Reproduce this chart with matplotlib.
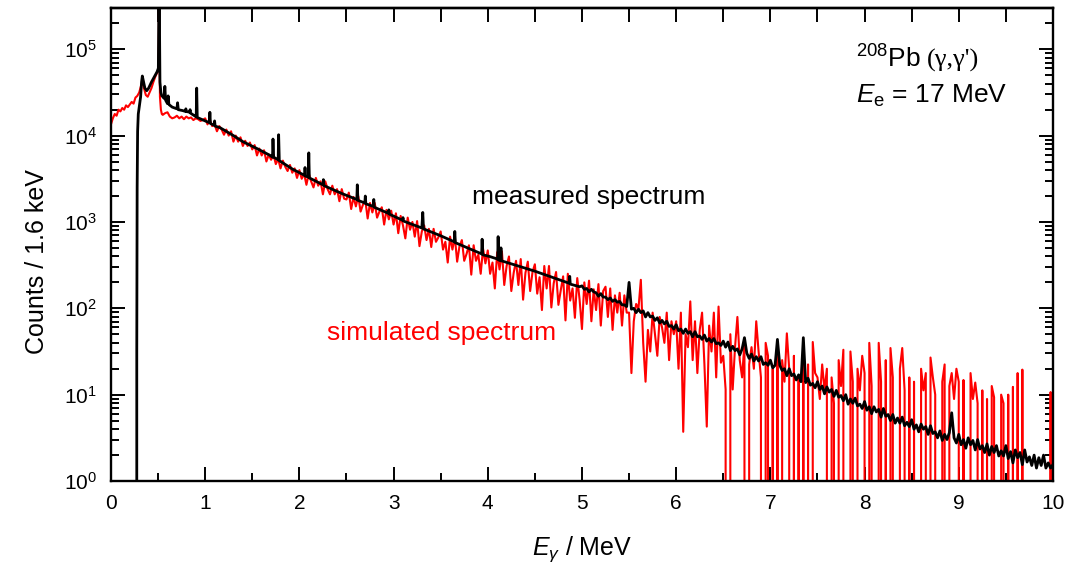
import numpy as np
import matplotlib
matplotlib.use("Agg")
import matplotlib.pyplot as plt
from matplotlib.ticker import MultipleLocator, LogLocator

plt.rcParams['font.family'] = 'Liberation Sans'
plt.rcParams['mathtext.fontset'] = 'custom'
plt.rcParams['mathtext.rm'] = 'Liberation Sans'
plt.rcParams['mathtext.it'] = 'Liberation Sans:italic'
plt.rcParams['mathtext.bf'] = 'Liberation Sans:bold'

# values are log10(counts); None = empty channel (0 counts)

# low-energy part, below 0.55 MeV
meas_e_low = [0.0, 0.268, 0.274, 0.278, 0.283, 0.29, 0.30, 0.315, 0.325, 0.333, 0.345, 0.36,
              0.38, 0.40, 0.43, 0.46, 0.49, 0.503, 0.507, 0.511, 0.515, 0.52, 0.53, 0.54]
meas_low = [None, None, 1.5, 3.4, 4.05, 4.25, 4.33, 4.45, 4.62, 4.69, 4.63, 4.55,
            4.52, 4.55, 4.62, 4.68, 4.74, 4.78, 5.3, 5.9, 5.3, 4.62, 4.50, 4.46]

sim_e_low = [0.0, 0.02, 0.04, 0.06, 0.08, 0.10, 0.12, 0.14, 0.16, 0.18, 0.20, 0.22, 0.24, 0.26,
             0.28, 0.30, 0.32, 0.335, 0.35, 0.37, 0.39, 0.41, 0.43, 0.45, 0.47, 0.49, 0.503,
             0.508, 0.511, 0.514, 0.52, 0.53, 0.54]
sim_low = [4.13, 4.20, 4.25, 4.23, 4.30, 4.28, 4.32, 4.30, 4.35, 4.33, 4.36, 4.39, 4.37, 4.44,
           4.46, 4.50, 4.58, 4.63, 4.55, 4.47, 4.45, 4.50, 4.55, 4.62, 4.68, 4.73, 4.76,
           5.2, 5.6, 5.2, 4.45, 4.30, 4.25]

# measured, 0.55 - 5 MeV: continuum points and the narrow lines
meas_e_mid = [0.55, 0.565, 0.572, 0.58, 0.60, 0.607, 0.615, 0.65, 0.70, 0.707,
              0.715, 0.76, 0.79, 0.795, 0.80, 0.835, 0.84, 0.845, 0.90, 0.905,
              0.91, 0.916, 1.00, 1.045, 1.05, 1.056, 1.095, 1.10, 1.106, 1.16,
              1.30, 1.40, 1.55, 1.69, 1.715, 1.72, 1.727, 1.775, 1.78, 1.787,
              1.93, 2.055, 2.06, 2.066, 2.095, 2.10, 2.106, 2.25, 2.255, 2.262,
              2.45, 2.61, 2.615, 2.622, 2.695, 2.70, 2.706, 2.785, 2.79, 2.796,
              2.945, 2.95, 2.956, 3.095, 3.10, 3.106, 3.30, 3.31, 3.318, 3.50,
              3.645, 3.65, 3.656, 3.935, 3.94, 3.946, 4.02, 4.105, 4.11, 4.116,
              4.135, 4.14, 4.146, 4.50, 4.63, 4.865, 4.87, 4.876, 4.975]
meas_mid = [4.45, 4.43, 4.57, 4.41, 4.37, 4.46, 4.36, 4.33, 4.31, 4.38,
            4.30, 4.29, 4.28, 4.31, 4.28, 4.27, 4.30, 4.26, 4.22, 4.22,
            4.55, 4.21, 4.17, 4.15, 4.27, 4.14, 4.12, 4.17, 4.11, 4.09,
            4.00, 3.93, 3.85, 3.77, 3.75, 3.96, 3.75, 3.72, 4.01, 3.71,
            3.61, 3.54, 3.63, 3.53, 3.52, 3.80, 3.51, 3.43, 3.49, 3.42,
            3.33, 3.26, 3.43, 3.25, 3.22, 3.30, 3.21, 3.18, 3.26, 3.17,
            3.10, 3.14, 3.09, 3.02, 3.05, 3.01, 2.93, 3.11, 2.92, 2.84,
            2.77, 2.89, 2.76, 2.63, 2.80, 2.62, 2.60, 2.57, 2.83, 2.56,
            2.55, 2.70, 2.55, 2.43, 2.38, 2.29, 2.37, 2.28, 2.25]

# measured, 5 - 10 MeV on a 25 keV grid (one row = 0.5 MeV)
meas_hi = [
    2.26, 2.22, 2.23, 2.19, 2.22, 2.19, 2.18, 2.14, 2.17, 2.13, 2.13, 2.10, 2.12, 2.08, 2.10, 2.07, 2.08, 2.04, 2.04, 2.02,
    2.30, 1.99, 2.00, 1.95, 1.99, 1.95, 1.97, 1.90, 1.95, 1.90, 1.91, 1.86, 1.89, 1.83, 1.86, 1.82, 1.85, 1.79, 1.80, 1.76,
    1.81, 1.74, 1.76, 1.71, 1.76, 1.71, 1.73, 1.67, 1.73, 1.67, 1.68, 1.64, 1.69, 1.62, 1.65, 1.61, 1.65, 1.59, 1.60, 1.57,
    1.62, 1.55, 1.61, 1.51, 1.56, 1.51, 1.53, 1.46, 1.53, 1.66, 1.48, 1.42, 1.47, 1.39, 1.44, 1.39, 1.44, 1.35, 1.37, 1.34,
    1.40, 1.31, 1.34, 1.64, 1.34, 1.28, 1.30, 1.22, 1.30, 1.22, 1.24, 1.17, 1.23, 1.15, 1.66, 1.14, 1.19, 1.11, 1.13, 1.08,
    1.15, 1.06, 1.10, 1.01, 1.09, 1.03, 1.06, 0.98, 1.05, 0.97, 0.99, 0.93, 1.00, 0.89, 0.95, 0.90, 0.96, 0.87, 0.89, 0.84,
    0.92, 0.82, 0.86, 0.78, 0.86, 0.80, 0.83, 0.74, 0.84, 0.75, 0.77, 0.70, 0.77, 0.67, 0.73, 0.67, 0.74, 0.64, 0.68, 0.63,
    0.71, 0.60, 0.65, 0.57, 0.66, 0.60, 0.63, 0.54, 0.64, 0.55, 0.57, 0.50, 0.58, 0.47, 0.54, 0.48, 0.56, 0.79, 0.50, 0.44,
    0.54, 0.42, 0.48, 0.38, 0.50, 0.42, 0.47, 0.36, 0.48, 0.37, 0.41, 0.33, 0.43, 0.30, 0.40, 0.33, 0.41, 0.29, 0.35, 0.29,
    0.41, 0.26, 0.34, 0.21, 0.36, 0.27, 0.33, 0.19, 0.36, 0.22, 0.28, 0.18, 0.30, 0.15, 0.27, 0.18, 0.30, 0.15, 0.21, 0.15,
    0.19]

# simulated, 0.55 - 10 MeV on a 25 keV grid
sim_grid = [
    4.24, 4.26, 4.27, 4.22, 4.20, 4.21, 4.23, 4.20, 4.22, 4.19, 4.22, 4.20, 4.21, 4.18, 4.20, 4.19, 4.17, 4.18,
    4.20, 4.13, 4.18, 4.11, 4.13, 4.05, 4.11, 4.07, 4.01, 4.07, 4.00, 4.05, 3.93, 4.00, 3.93, 3.98, 3.88, 3.94, 3.88, 3.92,
    3.84, 3.89, 3.77, 3.85, 3.77, 3.83, 3.70, 3.78, 3.72, 3.78, 3.67, 3.73, 3.62, 3.71, 3.64, 3.59, 3.66, 3.57, 3.62, 3.51,
    3.60, 3.50, 3.56, 3.43, 3.56, 3.47, 3.40, 3.51, 3.42, 3.47, 3.32, 3.47, 3.38, 3.32, 3.42, 3.32, 3.38, 3.24, 3.38, 3.27,
    3.26, 3.34, 3.15, 3.29, 3.18, 3.30, 3.12, 3.20, 3.25, 3.04, 3.22, 3.11, 3.22, 3.05, 3.12, 3.17, 2.97, 3.14, 3.03, 3.13,
    2.97, 3.10, 2.87, 3.07, 2.96, 2.81, 3.05, 2.91, 3.00, 2.83, 3.01, 2.72, 2.89, 2.96, 2.79, 2.92, 2.71, 2.92, 2.77, 2.82,
    2.89, 2.68, 2.77, 2.53, 2.83, 2.68, 2.83, 2.54, 2.72, 2.79, 2.55, 2.63, 2.73, 2.39, 2.73, 2.55, 2.62, 2.40, 2.69, 2.52,
    2.67, 2.40, 2.53, 2.23, 2.65, 2.45, 2.66, 2.27, 2.49, 2.60, 2.20, 2.41, 2.55, 2.27, 2.57, 2.10, 2.41, 2.54, 2.20, 2.42,
    2.51, 2.17, 2.36, 1.98, 2.49, 2.23, 2.49, 2.01, 2.29, 2.42, 2.04, 2.21, 2.37, 1.86, 2.40, 2.09, 2.23, 1.89, 2.35, 2.10,
    1.76, 2.30, 2.05, 2.32, 1.85, 2.22, 1.98, 2.28, 1.80, 2.20, 2.25, 1.90, 2.23, 1.75, 2.15, 1.95, 2.18, 1.80, 2.15, 1.95,
    1.95, 1.25, 1.85, 2.05, 2.00, 2.33, 1.60, 1.15, 1.75, 1.50, 1.95, 1.70, 1.45, 1.90, 1.78, 1.60, 1.95, 1.40, 1.85, 1.70,
    1.85, 1.30, 1.95, 0.57, 1.70, 1.55, 2.08, 1.40, 1.85, 1.25, 1.75, 1.95, 1.35, 0.63, 1.80, 1.50, 1.95, 1.20, 2.02, 1.37,
    1.45, 1.06, None, 1.70, 1.06, 1.55, 1.90, 1.40, 1.20, 1.60, None, 1.35, 1.55, 1.30, 1.85, 1.50, 1.20, None, 1.60, 1.45,
    None, 1.30, None, 1.55, None, 1.40, 1.15, 1.71, 1.30, None, 1.45, None, 1.20, None, 1.50, None, 1.35, None, 1.61, 1.25,
    1.20, 0.95, 1.35, 1.05, 1.30, None, 1.20, 0.90, None, 1.40, 1.10, 1.52, None, None, 1.50, 1.15, None, 1.30, 1.05, 1.45,
    1.25, None, 1.60, 1.10, None, None, 1.60, 1.15, None, 1.40, None, 1.54, 1.20, None, None, 1.30, 1.54, 1.05, None, 1.20,
    None, 1.15, None, None, 1.30, 1.05, 1.25, None, 1.43, 1.20, 1.00, None, None, 1.15, 1.35, None, 1.10, 1.25, 0.95, 1.30,
    1.15, None, 1.17, None, None, 1.25, 0.95, 1.14, 0.90, None, 1.05, None, 0.95, None, 1.10, 0.97, None, None, 1.00, 0.90,
    None, 1.00, None, 1.09, None, 1.25, None, 1.29, None, None, None, None, None, None, None, None, None, None, None, 1.03,
    None]


def to_counts(logs):
    return np.array([0.0 if v is None else 10.0 ** v for v in logs])


e_sim_grid = np.round(0.55 + 0.025 * np.arange(len(sim_grid)), 3)
e_meas_hi = np.round(5.0 + 0.025 * np.arange(len(meas_hi)), 3)

sim_e = np.concatenate([sim_e_low, e_sim_grid])
sim_c = np.concatenate([to_counts(sim_low), to_counts(sim_grid)])
meas_e = np.concatenate([meas_e_low, meas_e_mid, e_meas_hi])
meas_c = np.concatenate([to_counts(meas_low), to_counts(meas_mid), to_counts(meas_hi)])

fig = plt.figure(figsize=(10.69, 5.70), dpi=100)
ax = fig.add_axes([0.1038, 0.1561, 0.8812, 0.8298])

ax.plot(sim_e, sim_c, color='#ff0000', lw=1.5, zorder=2)
ax.plot(meas_e, meas_c, color='black', lw=2.0, zorder=3)

ax.set_yscale('log', nonpositive='clip')
ax.set_xlim(0, 10)
ax.set_ylim(1, 3.0e5)

ax.xaxis.set_major_locator(MultipleLocator(1))
ax.xaxis.set_minor_locator(MultipleLocator(0.5))
ax.yaxis.set_major_locator(LogLocator(base=10, numticks=10))
ax.yaxis.set_minor_locator(LogLocator(base=10, subs=np.arange(2, 10), numticks=20))

ax.tick_params(which='major', direction='in', length=10, width=1.4, top=False, right=True,
               labelsize=15)
ax.tick_params(which='minor', direction='in', length=5.5, width=1.4, top=False, right=True)
ax.tick_params(axis='x', which='major', pad=9)
ax.tick_params(axis='y', which='major', pad=10)

# top axis: all ticks at 0.5 MeV the same length
sec = ax.secondary_xaxis('top')
sec.xaxis.set_major_locator(MultipleLocator(0.5))
sec.tick_params(direction='in', length=10, width=1.4, labeltop=False)
sec.spines['top'].set_linewidth(1.7)

for s in ax.spines.values():
    s.set_linewidth(1.7)

ax.set_xlabel(r'$E_\gamma$ / MeV', fontsize=18)
ax.set_ylabel('Counts / 1.6 keV', fontsize=18)
ax.xaxis.set_label_coords(0.5, -0.112)
ax.yaxis.set_label_coords(-0.066, 0.463)

ax.text(0.507, 0.600, 'measured spectrum', transform=ax.transAxes, fontsize=19,
        ha='center', va='center', color='black')
ax.text(0.351, 0.313, 'simulated spectrum', transform=ax.transAxes, fontsize=19,
        ha='center', va='center', color='#ff0000')

t1 = ax.text(0.791, 0.875, r'$^{208}$Pb', transform=ax.transAxes, fontsize=19,
             va='baseline', ha='left')
ax.annotate("(\u03b3,\u03b3')", xy=(1, 0), xycoords=t1, xytext=(4, 0),
            textcoords='offset points', fontsize=19, family='Liberation Serif',
            va='bottom', ha='left')
ax.text(0.791, 0.799, r'$E_\mathrm{e}$ = 17 MeV', transform=ax.transAxes, fontsize=19,
        va='baseline', ha='left')

fig.savefig('out.png', dpi=100)
